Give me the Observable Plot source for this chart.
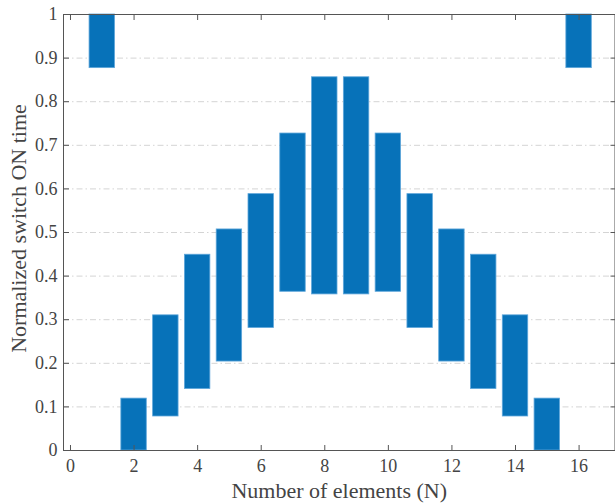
<!DOCTYPE html>
<html>
<head>
<meta charset="utf-8">
<script src="https://cdn.jsdelivr.net/npm/d3@7"></script>
<script src="https://cdn.jsdelivr.net/npm/@observablehq/plot@0.6"></script>
<style>
  html, body { margin: 0; padding: 0; background: #fff; }
  #chart svg { display: block; }
  #chart svg, #chart svg text { font-family: "Liberation Serif", "DejaVu Serif", serif !important; }
</style>
</head>
<body>
<div id="chart"></div>
<script>
// Data
const elements = [1, 2, 3, 4, 5, 6, 7, 8, 9, 10, 11, 12, 13, 14, 15, 16];
const onStart  = [0.877, 0, 0.078, 0.141, 0.204, 0.281, 0.364, 0.358, 0.358, 0.364, 0.281, 0.204, 0.141, 0.078, 0, 0.877];
const onEnd    = [1, 0.119, 0.310, 0.449, 0.507, 0.588, 0.727, 0.856, 0.856, 0.727, 0.588, 0.507, 0.449, 0.310, 0.119, 1];
const xTicks = [0, 2, 4, 6, 8, 10, 12, 14, 16];
const yTicks = [0, 0.1, 0.2, 0.3, 0.4, 0.5, 0.6, 0.7, 0.8, 0.9, 1];
const xLabel = "Number of elements (N)";
const yLabel = "Normalized switch ON time";

const data = elements.map((n, i) => ({n, lo: onStart[i], hi: onEnd[i]}));
const barHalf = 0.4;
const font = "Liberation Serif, DejaVu Serif, serif";
const textColor = "#444";
const axisColor = "#555";

const chart = Plot.plot({
  width: 615,
  height: 504,
  marginLeft: 63,
  marginRight: 0.5,
  marginTop: 14,
  marginBottom: 54,
  style: "background: #fff; color: #444; font-family: 'Liberation Serif', serif;",
  x: {domain: [-0.22, 17.13]},
  y: {domain: [0, 1]},
  marks: [
    Plot.gridY(yTicks.filter(v => v > 0 && v < 1), {stroke: "#d4d4d4", strokeOpacity: 1, strokeDasharray: "6,3,1.5,3"}),
    Plot.rect(data, {
      x1: d => d.n - barHalf, x2: d => d.n + barHalf,
      y1: "lo", y2: "hi",
      fill: "#0772b9", stroke: "#5ea6da", strokeWidth: 0.8
    }),
    Plot.frame({stroke: axisColor, strokeWidth: 1}),
    // inward ticks
    Plot.axisX(xTicks, {anchor: "bottom", tickSize: -5, tickFormat: () => "", stroke: axisColor, label: null}),
    Plot.axisX(xTicks, {anchor: "top", tickSize: -5, tickFormat: () => "", stroke: axisColor, label: null}),
    Plot.axisY(yTicks, {anchor: "left", tickSize: -6, tickFormat: () => "", stroke: axisColor, label: null}),
    Plot.axisY(yTicks, {anchor: "right", tickSize: -5, tickFormat: () => "", stroke: axisColor, label: null}),
    // tick labels
    Plot.axisX(xTicks, {anchor: "bottom", tickSize: 0, tickPadding: 9, fontSize: 18, fontFamily: font, fill: textColor, label: null, tickFormat: d => String(d)}),
    Plot.axisY(yTicks, {anchor: "left", tickSize: 0, tickPadding: 6, fontSize: 18, fontFamily: font, fill: textColor, label: null, tickFormat: d => String(d)}),
    // axis titles
    Plot.text([xLabel], {frameAnchor: "bottom", dy: 40, fontSize: 22, fontFamily: font, fill: textColor, lineAnchor: "middle", textAnchor: "middle"}),
    Plot.text([yLabel], {frameAnchor: "left", dx: -45, dy: -4, rotate: -90, fontSize: 22, fontFamily: font, fill: textColor, lineAnchor: "middle", textAnchor: "middle"})
  ]
});
document.getElementById("chart").appendChild(chart);
</script>
</body>
</html>
